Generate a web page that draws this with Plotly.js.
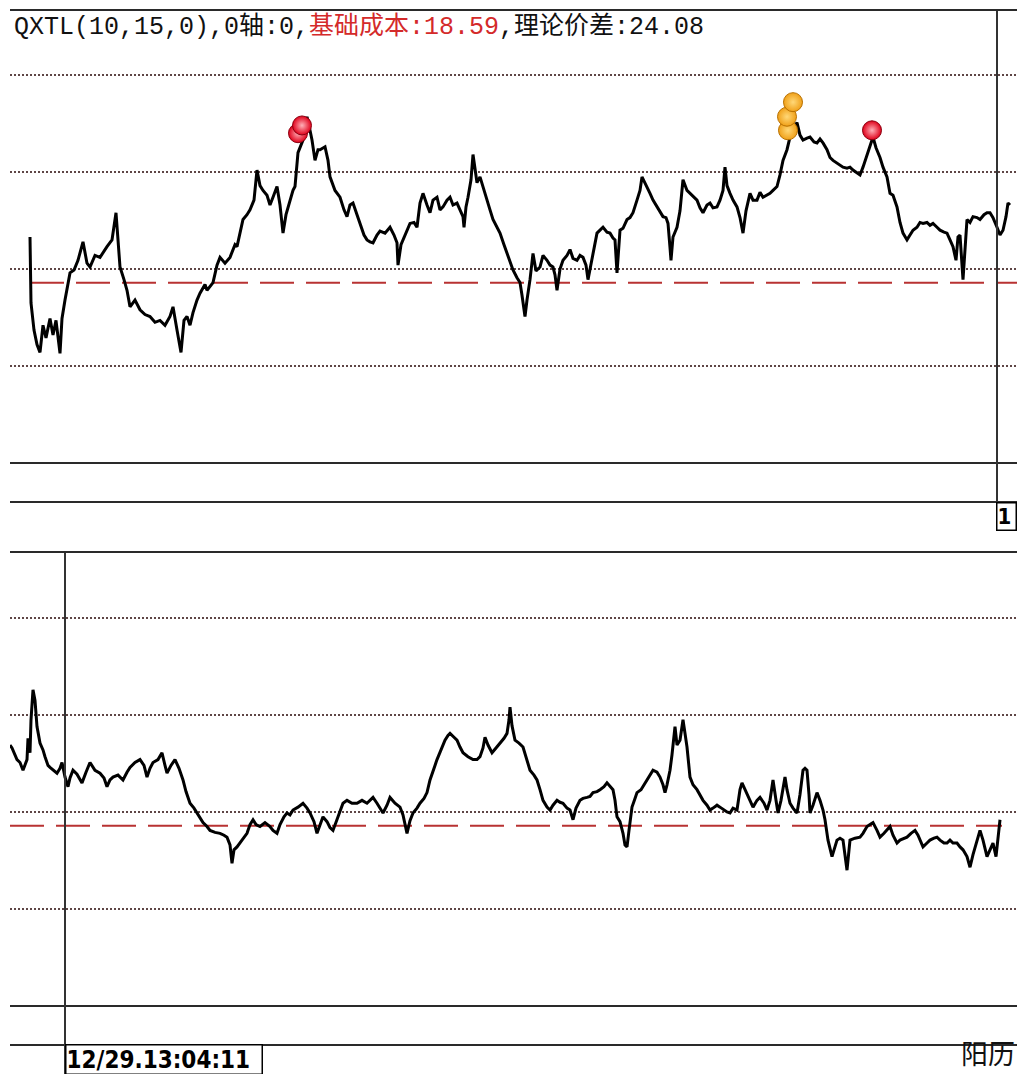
<!DOCTYPE html>
<html><head><meta charset="utf-8">
<script src="https://cdn.plot.ly/plotly-3.0.1.min.js"></script>
<style>html,body{margin:0;padding:0;background:#fff;} #chart{width:1017px;height:1074px;}</style>
</head><body><div id="chart"></div>
<script>
// ---- values ----
const indicatorName = 'QXTL';
const indicatorParams = [10, 15, 0];
const zeroAxis = 0;
const baseCost = 18.59;
const theorySpread = 24.08;
const gridLevels = [10, 20, 30, 40];

// upper panel: [time index, value]
const topSeries = [
[30,23.3],[31,16.5],[34,13.7],[37,12.2],[40,11.4],[43,14.2],[46,12.9],[50,14.9],[53,13.2],[56,14.7],
[60,11.3],[62,14.9],[65,16.8],[70,19.6],[74,19.9],[78,20.9],[83,22.8],[87,20.6],[90,20.2],[95,21.4],
[100,21.2],[104,21.9],[107,22.3],[112,23.0],[116,25.8],[118,23.0],[120,20.2],[124,18.9],[127,17.8],[130,16.1],
[135,16.8],[140,15.8],[145,15.3],[150,15.1],[155,14.5],[160,14.7],[165,14.2],[170,15.1],[173,16.1],[177,13.7],
[181,11.4],[184,14.7],[187,15.1],[190,14.2],[193,15.5],[197,16.8],[200,17.5],[205,18.4],[207,17.8],[213,18.6],
[217,20.4],[220,21.2],[225,20.6],[230,21.2],[235,22.5],[237,22.3],[240,23.8],[243,25.1],[247,25.6],[250,26.1],
[254,27.1],[257,30.2],[260,28.6],[263,28.1],[267,27.6],[270,26.6],[273,27.4],[277,28.5],[280,26.6],[283,23.7],
[286,25.6],[290,27.1],[293,28.1],[295,28.5],[298,32.0],[303,33.3],[307,35.7],[310,34.3],[312,33.3],[315,31.2],
[318,32.3],[320,32.3],[325,32.6],[328,31.2],[330,29.5],[335,28.1],[340,27.4],[344,26.1],[347,25.4],[350,26.6],
[353,26.8],[357,25.6],[360,24.7],[364,23.5],[367,23.0],[370,22.8],[373,22.7],[377,23.5],[380,23.9],[385,23.7],
[390,24.3],[394,23.5],[397,22.7],[398,20.4],[401,22.5],[403,23.0],[407,24.0],[410,24.7],[414,24.8],[417,24.3],
[420,26.8],[423,27.8],[427,26.6],[430,25.8],[433,27.1],[437,27.4],[440,26.1],[443,26.4],[447,27.1],[450,27.4],
[453,26.6],[457,26.8],[460,26.1],[463,25.4],[464,24.3],[466,26.4],[468,27.4],[471,29.2],[473,31.8],[475,30.2],
[477,28.9],[480,29.5],[483,28.4],[487,27.1],[490,26.1],[493,25.1],[497,24.2],[500,23.7],[504,22.5],[507,21.6],
[510,20.7],[513,19.9],[517,19.1],[520,18.6],[522,17.3],[525,15.1],[527,16.8],[530,18.9],[533,21.6],[536,19.8],
[540,20.2],[543,21.4],[547,20.9],[550,20.4],[553,20.2],[555,19.4],[557,17.8],[560,20.0],[563,20.9],[567,21.4],
[570,22.0],[573,21.1],[577,20.9],[580,21.4],[583,21.2],[586,20.4],[588,18.9],[591,20.6],[593,21.6],[597,23.7],
[600,24.0],[603,24.3],[607,23.8],[610,23.7],[613,23.2],[615,23.0],[617,19.6],[619,23.3],[620,24.0],[623,24.2],
[627,25.1],[630,25.3],[633,25.8],[637,27.1],[640,28.1],[642,29.5],[646,28.7],[650,27.8],[653,27.1],[657,26.4],
[660,25.9],[663,25.4],[666,25.3],[668,24.7],[670,22.2],[671,20.9],[673,23.3],[677,24.3],[680,26.0],[683,29.2],
[687,28.1],[690,27.8],[693,27.5],[697,27.1],[700,26.3],[703,25.8],[707,26.6],[710,26.8],[713,26.3],[717,26.4],
[720,27.1],[723,28.1],[725,30.5],[727,28.6],[730,27.8],[733,27.1],[737,26.4],[740,25.3],[743,23.7],[746,26.0],
[750,27.8],[753,27.1],[757,27.1],[760,27.9],[763,27.4],[767,27.6],[770,27.8],[773,28.1],[777,28.5],[780,29.7],
[783,31.2],[787,32.3],[790,33.6],[794,34.5],[797,35.1],[800,33.8],[803,33.3],[807,33.5],[810,33.6],[814,33.1],
[817,33.0],[820,33.4],[823,33.0],[827,32.3],[830,31.5],[833,31.2],[837,30.9],[840,30.7],[843,30.5],[847,30.4],
[850,30.5],[853,30.2],[857,29.9],[860,29.7],[863,30.5],[867,31.8],[870,32.6],[873,33.6],[876,32.5],[880,31.5],
[883,30.5],[887,29.5],[890,27.8],[893,27.6],[897,26.4],[900,24.8],[903,23.7],[907,23.0],[910,23.5],[913,24.0],
[917,24.3],[920,24.8],[923,24.7],[927,24.8],[930,24.5],[933,24.7],[937,24.3],[940,24.0],[944,23.8],[947,23.7],
[950,23.0],[953,22.3],[956,20.9],[958,23.3],[960,23.5],[963,18.9],[965,22.0],[967,25.1],[970,24.8],[973,25.4],
[977,25.3],[980,25.1],[984,25.6],[987,25.8],[990,25.8],[993,25.3],[997,24.3],[1000,23.5],[1003,24.0],[1006,25.4],
[1008,26.8],[1010,26.6]
];

// lower panel: [time index, value]
const bottomSeries = [
[10,26.9],[12,26.6],[17,25.4],[20,25.1],[23,24.3],[25,24.8],[27,25.4],[28,27.6],[30,26.1],[31,29.5],
[33,32.6],[35,31.5],[37,28.8],[40,27.1],[43,26.4],[45,25.7],[48,24.8],[50,24.6],[54,24.3],[57,24.0],
[60,24.5],[62,25.1],[65,23.6],[68,22.6],[70,23.5],[73,24.3],[77,23.9],[80,23.3],[82,23.0],[86,24.1],
[90,25.1],[95,24.3],[100,24.0],[104,23.5],[107,22.6],[110,23.3],[113,23.6],[118,23.8],[123,23.3],[127,24.1],
[130,24.6],[135,25.1],[140,25.4],[144,24.8],[147,23.6],[150,24.5],[153,25.1],[158,25.4],[162,26.1],[165,24.8],
[167,24.0],[171,24.8],[175,25.4],[179,24.5],[183,23.3],[186,22.1],[190,20.9],[194,20.4],[197,19.9],[200,19.4],
[203,18.9],[207,18.5],[210,18.1],[215,17.9],[220,17.8],[224,17.6],[227,17.4],[230,16.6],[232,14.7],[234,16.1],
[237,16.4],[242,17.1],[247,17.8],[250,18.7],[253,19.2],[256,18.7],[260,18.5],[265,18.9],[270,18.5],[273,18.1],
[277,17.8],[280,18.7],[284,19.5],[287,19.9],[290,19.7],[293,20.2],[298,20.5],[303,20.9],[307,20.4],[310,19.9],
[314,19.0],[317,17.8],[320,18.7],[323,19.5],[327,19.0],[330,18.4],[333,18.1],[337,19.2],[340,20.2],[343,20.9],
[347,21.2],[352,20.9],[357,20.9],[362,21.2],[367,20.9],[370,21.2],[373,21.5],[377,20.9],[380,20.4],[383,19.9],
[387,20.7],[390,21.5],[395,20.9],[400,20.5],[403,19.7],[405,18.7],[407,17.8],[410,19.1],[413,19.9],[417,20.4],
[420,20.9],[424,21.4],[427,22.0],[430,23.3],[432,24.0],[435,24.8],[437,25.4],[441,26.4],[445,27.4],[448,27.9],
[450,28.1],[454,27.7],[457,27.4],[460,26.7],[463,26.1],[468,25.7],[473,25.4],[477,25.4],[480,25.7],[483,26.6],
[485,27.7],[488,26.9],[492,26.1],[496,26.6],[500,27.1],[504,27.6],[507,28.1],[509,29.5],[510,30.8],[512,28.9],
[515,27.4],[519,27.1],[523,26.7],[526,25.6],[530,24.3],[534,23.8],[537,23.3],[540,22.3],[543,21.2],[547,20.5],
[550,20.2],[553,20.7],[557,21.2],[560,21.0],[563,20.9],[567,20.4],[570,20.2],[573,19.2],[576,20.4],[580,21.2],
[583,21.4],[587,21.5],[590,21.6],[593,22.0],[597,22.1],[600,22.3],[604,22.6],[607,23.0],[610,22.6],[613,22.3],
[615,21.2],[617,19.5],[620,19.0],[623,17.8],[625,16.6],[627,16.4],[629,18.1],[632,20.5],[635,21.4],[637,22.0],
[641,22.3],[644,22.8],[647,23.3],[650,23.8],[653,24.3],[657,24.1],[660,23.6],[663,22.8],[665,22.0],[667,22.8],
[670,24.3],[672,25.9],[675,28.8],[677,26.9],[680,27.4],[683,29.5],[685,28.0],[687,26.7],[690,23.6],[693,22.8],
[697,22.3],[700,21.8],[703,21.2],[707,20.7],[710,20.2],[713,20.4],[717,20.7],[720,20.5],[724,20.2],[727,20.0],
[730,19.9],[733,20.4],[737,20.2],[740,22.3],[742,23.0],[745,22.3],[747,22.0],[750,21.2],[753,20.5],[757,21.2],
[760,21.5],[764,20.9],[767,20.2],[770,21.2],[773,23.3],[776,21.2],[778,19.9],[781,21.2],[785,23.6],[787,22.3],
[790,20.9],[793,20.4],[797,19.9],[800,21.8],[803,24.3],[805,24.5],[807,24.3],[809,21.8],[810,19.9],[813,20.7],
[817,22.0],[820,21.2],[823,20.2],[825,19.2],[828,17.1],[832,15.4],[835,16.3],[837,17.1],[840,17.3],[843,17.1],
[847,14.0],[849,16.1],[850,17.1],[855,17.3],[860,17.4],[863,17.8],[867,18.5],[870,18.7],[873,18.9],[877,18.1],
[880,17.4],[884,17.8],[887,18.1],[890,18.5],[893,17.6],[897,16.8],[900,17.1],[904,17.3],[907,17.4],[911,17.8],
[915,18.1],[918,17.6],[923,16.4],[927,16.8],[930,17.1],[934,17.3],[937,17.4],[940,17.1],[944,16.8],[947,16.8],
[950,17.1],[953,16.8],[957,16.8],[960,16.4],[963,16.1],[967,15.4],[970,14.3],[973,15.6],[976,16.6],[980,18.1],
[983,17.1],[987,15.4],[990,16.1],[993,16.8],[996,15.4],[998,17.1],[1000,19.2]
];

const redSignals = [[298,34.0],[302,34.8],[872,34.3]];
const orangeSignals = [[788,34.3],[787,35.7],[793,37.2]];
const topBaseSpan = [30, 1017];
const bottomBaseSpan = [10, 1002];
const topCursorT = 997;
const bottomCursorT = 65;
const topCursorLabel = '1';
const bottomCursorLabel = '12/29.13:04:11';
const calendarLabel = '阳历';

// ---- drawing ----
const W = 1017, H = 1074;
const py = p => 1 - p / H;   // pixel row -> paper y
const col = (arr, i) => arr.map(r => r[i]);

const traces = [
  {x: topBaseSpan, y: [baseCost, baseCost], xaxis: 'x', yaxis: 'y', mode: 'lines',
   line: {color: '#b83232', width: 2, dash: '34px,12px'}, hoverinfo: 'skip'},
  {x: col(topSeries, 0), y: col(topSeries, 1), xaxis: 'x', yaxis: 'y', mode: 'lines',
   line: {color: '#000', width: 3}},
  {x: col(redSignals, 0), y: col(redSignals, 1), xaxis: 'x', yaxis: 'y', mode: 'markers',
   marker: {size: 19, color: '#e0001a', gradient: {type: 'radial', color: '#ffb0b8'},
            line: {color: '#8a0010', width: 1}}},
  {x: col(orangeSignals, 0), y: col(orangeSignals, 1), xaxis: 'x', yaxis: 'y', mode: 'markers',
   marker: {size: 19, color: '#f0a018', gradient: {type: 'radial', color: '#ffd878'},
            line: {color: '#b87000', width: 1}}},
  {x: bottomBaseSpan, y: [baseCost, baseCost], xaxis: 'x2', yaxis: 'y2', mode: 'lines',
   line: {color: '#b83232', width: 2, dash: '34px,12px'}, hoverinfo: 'skip'},
  {x: col(bottomSeries, 0), y: col(bottomSeries, 1), xaxis: 'x2', yaxis: 'y2', mode: 'lines',
   line: {color: '#000', width: 3}}
];

const xCommon = {domain: [10 / W, 1], range: [10, 1017], showgrid: false, zeroline: false,
  showticklabels: false, ticks: '', showline: true, mirror: true, linecolor: '#2a2a2a', linewidth: 2,
  fixedrange: true};
const yCommon = {tickvals: gridLevels, showticklabels: false, ticks: '', showgrid: true,
  gridcolor: '#5e4646', gridwidth: 1.5, griddash: '1.5px,2.5px',
  zeroline: true, zerolinecolor: '#2a2a2a', zerolinewidth: 2, showline: false, fixedrange: true};

const layout = {
  width: W, height: H, margin: {l: 0, r: 0, t: 0, b: 0},
  paper_bgcolor: '#fff', plot_bgcolor: '#fff', showlegend: false,
  xaxis: Object.assign({}, xCommon, {anchor: 'y'}),
  yaxis: Object.assign({}, yCommon, {anchor: 'x', domain: [py(501), py(11)], range: [-3.92, 46.6]}),
  xaxis2: Object.assign({}, xCommon, {anchor: 'y2'}),
  yaxis2: Object.assign({}, yCommon, {anchor: 'x2', domain: [py(1044), py(553)], range: [-3.92, 46.7]}),
  shapes: [
    {type: 'line', xref: 'x', yref: 'paper', x0: topCursorT, x1: topCursorT, y0: py(530), y1: py(11),
     line: {color: '#333', width: 2}},
    {type: 'line', xref: 'x2', yref: 'paper', x0: bottomCursorT, x1: bottomCursorT, y0: 0, y1: py(553),
     line: {color: '#333', width: 2}}
  ],
  annotations: [
    {xref: 'paper', yref: 'paper', x: 12 / W, y: py(27), xanchor: 'left', yanchor: 'middle', showarrow: false,
     text: indicatorName + '(' + indicatorParams.join(',') + '),0轴:' + zeroAxis + ',' +
           '<span style="color:#d42a2a">基础成本:' + baseCost.toFixed(2) + '</span>' +
           ',理论价差:' + theorySpread.toFixed(2),
     font: {family: 'Liberation Mono, Noto Sans CJK SC, monospace', size: 25, color: '#111'}},
    {xref: 'x', yref: 'paper', x: topCursorT - 1, y: py(502), xanchor: 'left', yanchor: 'top', showarrow: false,
     text: '<b>' + topCursorLabel + '</b>', bgcolor: '#fff', bordercolor: '#000', borderwidth: 1.5, borderpad: 0,
     width: 18, height: 26, align: 'left',
     font: {family: 'DejaVu Sans Condensed, DejaVu Sans', size: 22, color: '#000'}},
    {xref: 'x2', yref: 'paper', x: bottomCursorT, y: py(1044), xanchor: 'left', yanchor: 'top', showarrow: false,
     text: '<b>' + bottomCursorLabel + '</b>', bgcolor: '#fff', bordercolor: '#000', borderwidth: 1.5, borderpad: 0,
     width: 195, height: 28, align: 'left',
     font: {family: 'DejaVu Sans Condensed, Liberation Sans Narrow, DejaVu Sans', size: 24, color: '#000'}},
    {xref: 'paper', yref: 'paper', x: 1, y: 0, xanchor: 'right', yanchor: 'bottom', showarrow: false,
     text: calendarLabel, font: {family: 'Noto Sans CJK SC', size: 27, color: '#111'}}
  ]
};

Plotly.newPlot('chart', traces, layout, {staticPlot: true, displayModeBar: false});
</script>
</body></html>
